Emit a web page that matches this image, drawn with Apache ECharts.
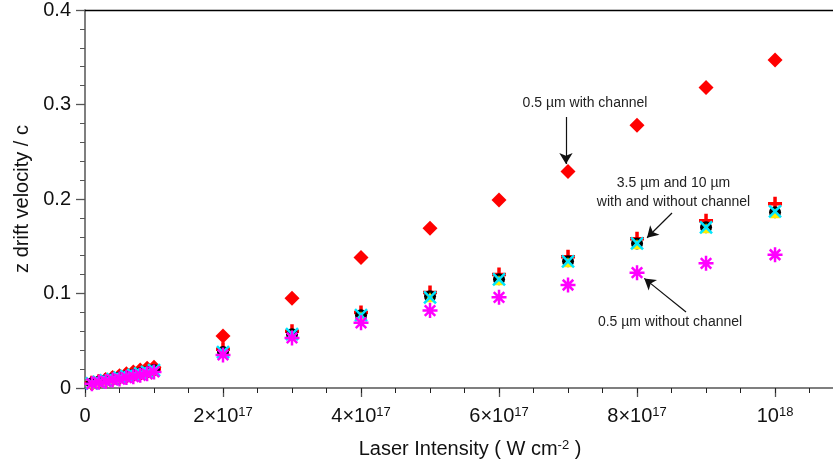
<!DOCTYPE html>
<html>
<head>
<meta charset="utf-8">
<script src="https://cdn.jsdelivr.net/npm/echarts@6/dist/echarts.min.js"></script>
<style>
  html, body { margin: 0; padding: 0; background: #fff; }
  #chart { width: 833px; height: 468px; }
</style>
</head>
<body>
<div id="chart"></div>
<script>
// Laser intensity (W cm^-2) for each simulation run
const intensity = [
  1e16, 2e16, 3e16, 4e16, 5e16, 6e16, 7e16, 8e16, 9e16, 1e17,
  2e17, 3e17, 4e17, 5e17, 6e17, 7e17, 8e17, 9e17, 1e18
];

// z drift velocity / c
const w05Channel = [0.005, 0.007, 0.009, 0.011, 0.013, 0.015, 0.017, 0.019, 0.021, 0.022,
  0.055, 0.095, 0.138, 0.169, 0.199, 0.229, 0.278, 0.318, 0.347];
const w35Channel = [0.0055, 0.007, 0.0085, 0.010, 0.0115, 0.013, 0.0145, 0.016, 0.018, 0.020,
  0.041, 0.060, 0.080, 0.101, 0.120, 0.139, 0.158, 0.177, 0.195];
const w35NoChannel = [0.005, 0.0065, 0.008, 0.0095, 0.011, 0.0125, 0.014, 0.0155, 0.017, 0.019,
  0.038, 0.057, 0.077, 0.097, 0.115, 0.134, 0.153, 0.170, 0.186];
const w10Channel = [0.0045, 0.006, 0.0075, 0.009, 0.0105, 0.012, 0.0135, 0.015, 0.0165, 0.0185,
  0.037, 0.056, 0.076, 0.096, 0.114, 0.133, 0.152, 0.169, 0.185];
const w10NoChannel = [0.005, 0.0065, 0.008, 0.0095, 0.011, 0.0125, 0.014, 0.0155, 0.017, 0.019,
  0.038, 0.057, 0.077, 0.096, 0.115, 0.134, 0.153, 0.170, 0.187];
const w05NoChannel = [0.0045, 0.006, 0.007, 0.0085, 0.0095, 0.011, 0.012, 0.0135, 0.015, 0.017,
  0.035, 0.053, 0.069, 0.082, 0.096, 0.109, 0.122, 0.132, 0.141];

// Axis ticks and their labels
const xTicks = [0, 2e17, 4e17, 6e17, 8e17, 1e18];
const xTickLabels = ['0', '2×10{sup|17}', '4×10{sup|17}', '6×10{sup|17}', '8×10{sup|17}', '10{sup|18}'];
const yTicks = [0, 0.1, 0.2, 0.3, 0.4];
const yTickLabels = ['0', '0.1', '0.2', '0.3', '0.4'];

const FONT = '"Liberation Sans", Arial, sans-serif';
const AXIS_COLOR = '#555';

const pairs = ys => intensity.map((x, i) => [x, ys[i]]);
const labelFor = (ticks, labels) => v => {
  const i = ticks.findIndex(t => Math.abs(t - v) < 1e-9 * Math.max(1, Math.abs(t)));
  return i >= 0 ? labels[i] : '';
};

const PLUS = 'path://M3,0H5V3H8V5H5V8H3V5H0V3H3Z';
const CROSS = 'path://M0,0L10,10M10,0L0,10';
const STAR = 'path://M5,0L5,10M0,5L10,5M1.5,1.5L8.5,8.5M8.5,1.5L1.5,8.5';

const annotationText = {
  color: '#222', fontFamily: FONT, fontSize: 14, lineHeight: 19
};

function scatter(name, data, symbol, size, style, extra) {
  return Object.assign({
    name, type: 'scatter', data: pairs(data),
    xAxisIndex: 0, yAxisIndex: 0,
    symbol, symbolSize: size, itemStyle: Object.assign({ opacity: 1 }, style),
    emphasis: { disabled: true }, silent: true
  }, extra || {});
}

const chart = echarts.init(document.getElementById('chart'), null, { renderer: 'canvas' });

const xMax = 1.084e18;
const supStyle = { fontSize: 13, fontFamily: FONT, color: '#111', verticalAlign: 'top', padding: [0, 0, 8, 0] };

chart.setOption({
  animation: false,
  backgroundColor: '#fff',
  grid: { left: 85, top: 10, right: 0, bottom: 80, containLabel: false },
  xAxis: [
    {
      type: 'value', min: 0, max: xMax, interval: 2e17, position: 'bottom',
      axisLine: { show: true, lineStyle: { color: AXIS_COLOR, width: 1.5 } },
      axisTick: { show: true, inside: false, length: 9, lineStyle: { color: AXIS_COLOR, width: 1.3 } },
      splitLine: { show: false },
      axisLabel: {
        margin: 18, color: '#111', fontFamily: FONT, fontSize: 20,
        showMaxLabel: false,
        formatter: labelFor(xTicks, xTickLabels),
        rich: { sup: supStyle }
      },
      name: 'Laser Intensity ( W cm{sup|-2} )',
      nameLocation: 'middle', nameGap: 51,
      nameTextStyle: {
        color: '#111', fontFamily: FONT, fontSize: 20, padding: [0, 0, 0, 22],
        rich: { sup: supStyle }
      }
    },
    {
      type: 'value', min: 0, max: xMax, interval: 0.5e17, position: 'bottom',
      axisLine: { show: false },
      axisTick: { show: true, inside: false, length: 5, lineStyle: { color: '#222', width: 1 } },
      axisLabel: { show: false }, splitLine: { show: false }
    },
    {
      type: 'value', min: 0, max: xMax, position: 'top',
      axisLine: { show: true, lineStyle: { color: '#000', width: 1.3 } },
      axisTick: { show: false }, axisLabel: { show: false }, splitLine: { show: false }
    }
  ],
  yAxis: [
    {
      type: 'value', min: 0, max: 0.4, interval: 0.1, position: 'left',
      axisLine: { show: true, lineStyle: { color: AXIS_COLOR, width: 1.5 } },
      axisTick: { show: true, inside: false, length: 9, lineStyle: { color: AXIS_COLOR, width: 1.3 } },
      splitLine: { show: false },
      axisLabel: {
        margin: 14, color: '#111', fontFamily: FONT, fontSize: 20,
        formatter: labelFor(yTicks, yTickLabels)
      },
      name: 'z drift velocity / c',
      nameLocation: 'middle', nameGap: 52, nameRotate: 90,
      nameTextStyle: { color: '#111', fontFamily: FONT, fontSize: 20 }
    },
    {
      type: 'value', min: 0, max: 0.4, interval: 0.02, position: 'left',
      axisLine: { show: false },
      axisTick: { show: true, inside: false, length: 5, lineStyle: { color: AXIS_COLOR, width: 1 } },
      axisLabel: { show: false }, splitLine: { show: false }
    }
  ],
  series: [
    scatter('0.5 µm with channel', w05Channel, 'diamond', 15, { color: '#ff0000' }, {
      markPoint: {
        symbol: 'circle', symbolSize: 1, silent: true,
        itemStyle: { color: 'rgba(0,0,0,0)' },
        label: Object.assign({ show: true, position: 'inside' }, annotationText),
        data: [
          { coord: [0.7246e18, 0.3016], label: { formatter: '0.5 µm with channel' } },
          { coord: [0.8529e18, 0.2069], label: { formatter: '3.5 µm and 10 µm\nwith and without channel' } },
          { coord: [0.8478e18, 0.0698], label: { formatter: '0.5 µm without channel' } }
        ]
      },
      markLine: {
        silent: true, symbol: ['none', 'arrow'], symbolSize: [10, 11],
        lineStyle: { color: '#111', width: 1.2, type: 'solid' },
        label: { show: false },
        data: [
          [{ coord: [0.697e18, 0.2868] }, { coord: [0.697e18, 0.2370] }],
          [{ coord: [0.8507e18, 0.1852] }, { coord: [0.8145e18, 0.1590] }],
          [{ coord: [0.871e18, 0.0804] }, { coord: [0.8105e18, 0.1160] }]
        ]
      }
    }),
    scatter('3.5 µm with channel', w35Channel, PLUS, 14, { color: '#ff0000' }),
    scatter('3.5 µm without channel', w35NoChannel, 'circle', 12, { color: '#000' }),
    scatter('10 µm with channel', w10Channel, 'triangle', 10, { color: '#ffee00' }),
    scatter('10 µm without channel', w10NoChannel, CROSS, 12,
      { color: 'rgba(0,0,0,0)', borderColor: '#00e5ff', borderWidth: 2.5 }),
    scatter('0.5 µm without channel', w05NoChannel, STAR, 15,
      { color: 'rgba(0,0,0,0)', borderColor: '#ff00ff', borderWidth: 2.5 })
  ]
});
</script>
</body>
</html>
